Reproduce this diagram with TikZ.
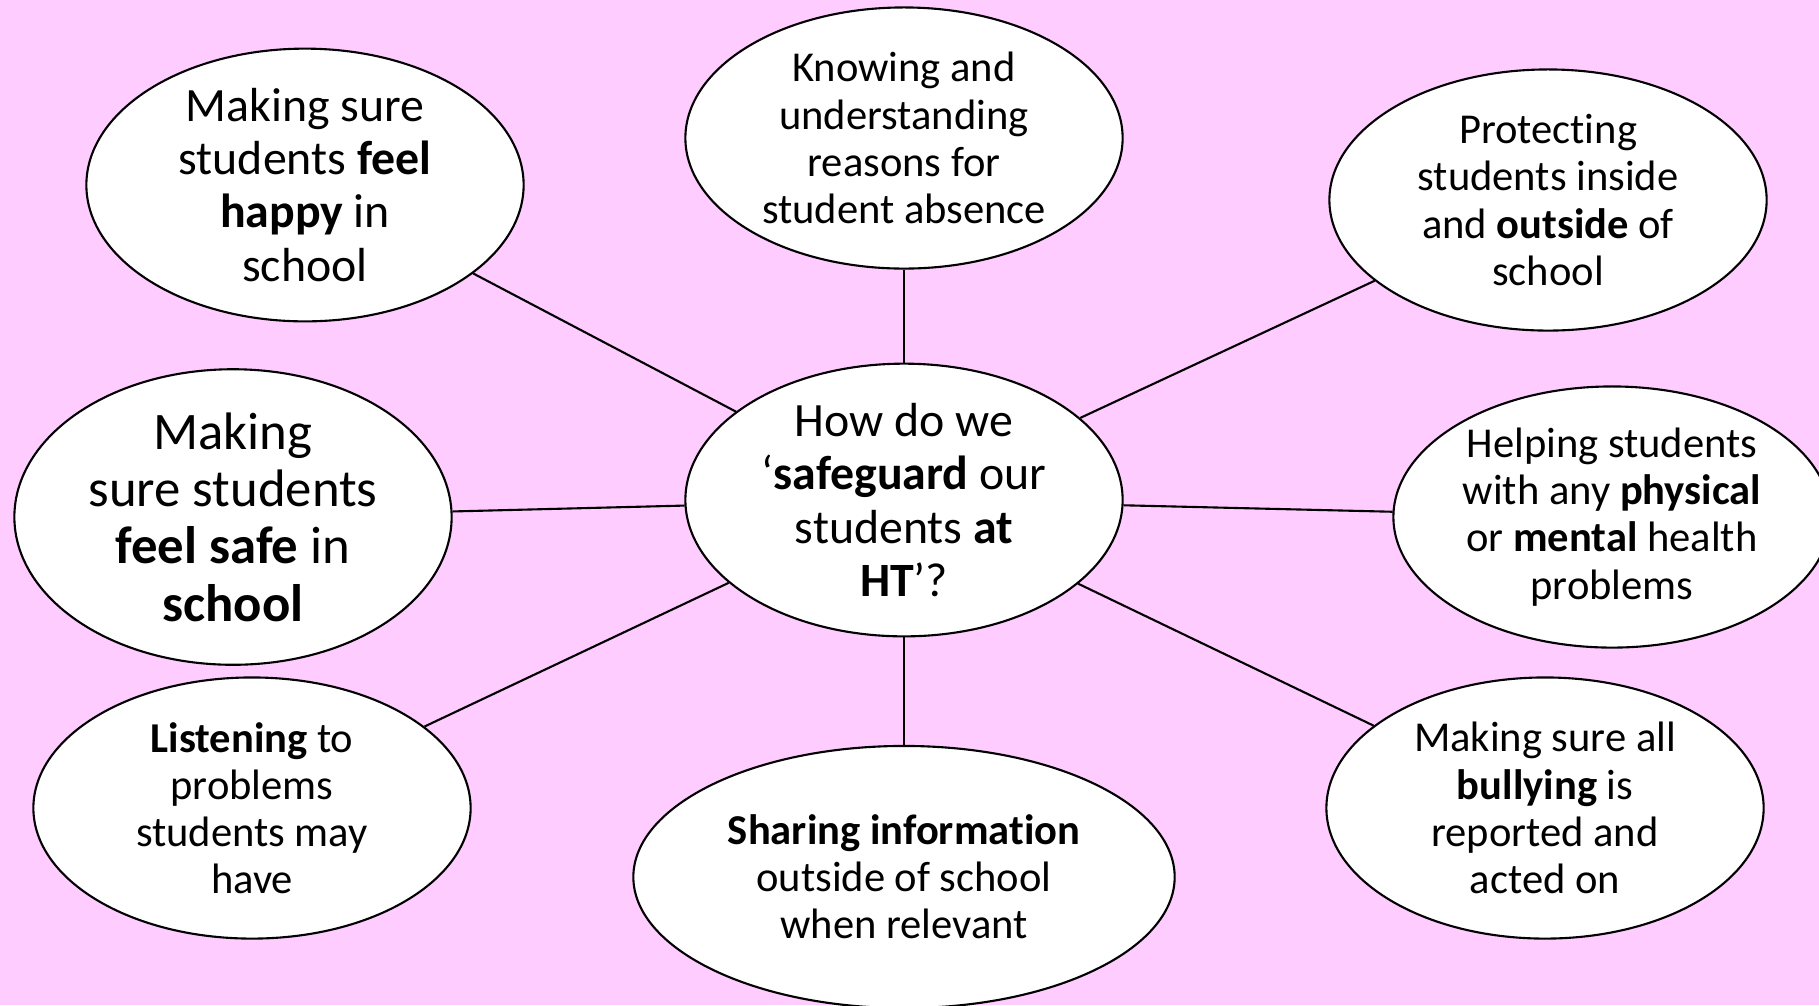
\documentclass[tikz,border=0pt]{standalone}
\usepackage{fontspec}
\setmainfont{Carlito}[Ligatures=NoCommon]
\usetikzlibrary{shapes.geometric}
\definecolor{bgpink}{RGB}{255,204,255}

\begin{document}
\begin{tikzpicture}[x=0.01cm,y=-0.01cm]
	\tikzset{bubble/.style={ellipse,draw,fill=white,line width=0.6pt,minimum width=4.37cm,minimum height=2.61cm,inner sep=0pt,align=center,font=\fontsize{12.1}{13.4}\selectfont},
		bigtext/.style={font=\fontsize{13.6}{15.1}\selectfont},
		hugetext/.style={font=\fontsize{15}{16.3}\selectfont},
		spoke/.style={line width=0.6pt}}
	\fill[bgpink] (0,0) rectangle (1819,1005);
	\useasboundingbox (0,0) rectangle (1819,1005);
	% centre
	\node[bubble,bigtext] (hub) at (904,500) {How do we\\ ‘\textbf{safeguard} our\\ students \textbf{at}\\ \textbf{HT}’?};
	% top row
	\node[bubble,bigtext] (happy) at (305,185) {Making sure\\ students \textbf{feel}\\ \textbf{happy} in\\ school};
	\node[bubble] (absence) at (904,138) {Knowing and\\ understanding\\ reasons for\\ student absence};
	\node[bubble] (protect) at (1548,200) {Protecting\\ students inside\\ and \textbf{outside} of\\ school};
	% middle row
	\node[bubble,hugetext] (safe) at (233,517) {Making\\ sure students\\ \textbf{feel safe} in\\ \textbf{school}};
	\node[bubble] (health) at (1612,517) {Helping students\\ with any \textbf{physical}\\ or \textbf{mental} health\\ problems};
	% bottom row
	\node[bubble] (listen) at (252,808) {\textbf{Listening} to\\ problems\\ students may\\ have};
	\node[bubble,minimum width=5.41cm,minimum height=2.62cm] (share) at (904,877) {\textbf{Sharing information}\\ outside of school\\ when relevant};
	\node[bubble] (bully) at (1545,808) {Making sure all\\ \textbf{bullying} is\\ reported and\\ acted on};
	\foreach \n in {happy,absence,protect,safe,health,listen,share,bully}
		\draw[spoke] (hub) -- (\n);
\end{tikzpicture}
\end{document}
